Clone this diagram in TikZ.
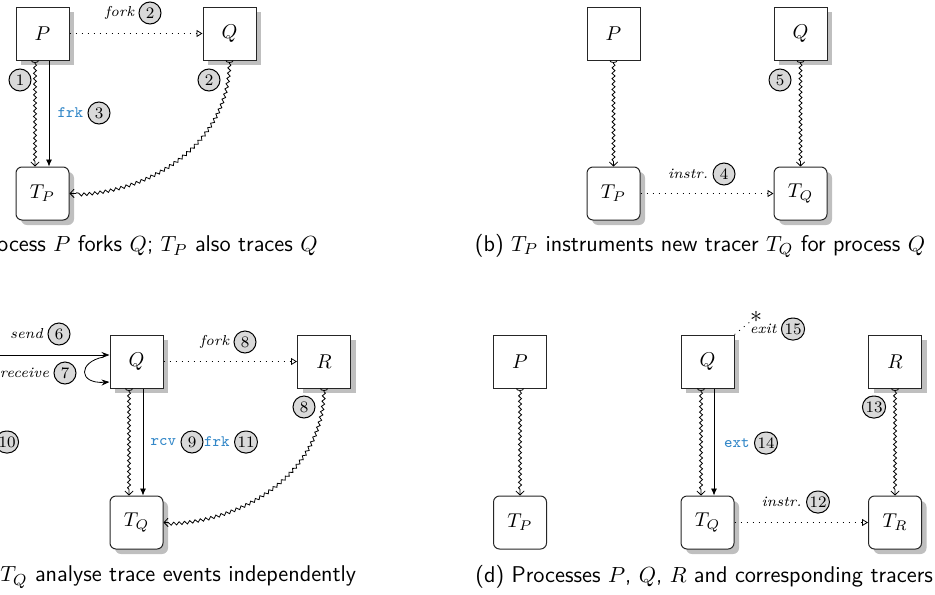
\documentclass[tikz,border=0pt]{standalone}
\usetikzlibrary{arrows.meta, decorations.pathmorphing, shadows, shapes.misc}
\definecolor{tblue}{RGB}{52,136,200}
\begin{document}
\begin{tikzpicture}[x=0.5pt,y=-0.5pt,
 proc/.style={draw=black!85, line width=0.5pt, fill=white, minimum size=26.5pt, inner sep=0pt},
 tracer/.style={proc, rounded corners=3pt},
 shad/.style={drop shadow={shadow xshift=2.5pt, shadow yshift=-2.5pt, fill=black!25, opacity=1}},
 num/.style={rounded rectangle, draw, fill=black!15, line width=0.5pt, minimum height=11pt, minimum width=11pt, inner xsep=0.8pt, inner ysep=0pt, font=\footnotesize},
 lbl/.style={font=\fontsize{7.2}{8.5}\selectfont\itshape, inner sep=1pt},
 ttl/.style={font=\footnotesize\ttfamily, text=tblue, inner sep=1pt},
 captxt/.style={font=\fontsize{11.4}{13}\selectfont\sffamily, inner sep=0pt},
 wavy/.style={decorate, decoration={snake, amplitude=0.75pt, segment length=2.7pt, pre length=1.5pt, post length=2pt}, line width=0.4pt, {Arc Barb[reversed,length=1.2pt,width=4pt]}-{Straight Barb[length=2pt,width=4.2pt]}},
 solidarr/.style={line width=0.4pt, -{Latex[length=3.5pt,width=3pt]}},
 dotarr/.style={line width=0.4pt, dash pattern=on 0.5pt off 2.5pt, -{Triangle[open,length=3pt,width=3.5pt]}},
 dotl/.style={line width=0.4pt, dash pattern=on 0.5pt off 2.5pt}]
\clip (0,0) rectangle (935,594);
% ---------- (a)
\node[proc, shad] (aP) at (42.5,33.5) {$P$};
\node[proc, shad] (aQ) at (229.5,33.5) {$Q$};
\node[tracer, shad] (aT) at (42.5,193.5) {$T_P$};
\draw[dotarr] (aP) -- (aQ);
\node[num] (an2) at (150,13) {2};
\node[lbl, anchor=east] (afork) at ([xshift=-1pt]an2.west) {fork};
\node[num] (an1) at (20,80) {1};
\draw[wavy] ([xshift=-3.75pt]aP.south) -- ([xshift=-3.75pt]aT.north);
\draw[solidarr] ([xshift=3.25pt]aP.south) -- ([xshift=3.25pt]aT.north);
\node[num] (an3) at (99,113) {3};
\node[ttl, anchor=east] (afrk) at ([xshift=-1pt]an3.west) {frk};
\node[num] (an2b) at (209,80) {2};
\draw[wavy] (aQ.south) to[out=-90,in=0] (aT.east);
\node[captxt, anchor=east] (capa) at (318,246) {(a) Process $P$ forks $Q$; $T_P$ also traces $Q$};
% ---------- (b)
\node[proc] (bP) at (613.5,33.5) {$P$};
\node[proc, shad] (bQ) at (800.5,33.5) {$Q$};
\node[tracer, shad] (bTP) at (613.5,193.5) {$T_P$};
\node[tracer, shad] (bTQ) at (800.5,193.5) {$T_Q$};
\draw[wavy] (bP.south) -- (bTP.north);
\draw[wavy] (bQ.south) -- (bTQ.north);
\draw[dotarr] (bTP) -- (bTQ);
\node[num] (bn4) at (724,174) {4};
\node[lbl, anchor=east] (binstr) at ([xshift=-1pt]bn4.west) {instr.};
\node[num] (bn5) at (780,80) {5};
\node[captxt] (capb) at (700,246) {(b) $T_P$ instruments new tracer $T_Q$ for process $Q$};
% ---------- (c)
\node[proc, shad] (cQ) at (136.5,361.5) {$Q$};
\node[proc, shad] (cR) at (324,361.5) {$R$};
\node[tracer, shad] (cT) at (136.5,522.5) {$T_Q$};
\coordinate (cin) at (-10,355);
\draw[line width=0.4pt, -{Stealth[length=4pt,width=3pt]}] (cin) -- (cin -| cQ.west);
\node[num] (cn6) at (59,334) {6};
\node[lbl, anchor=east] (csend) at ([xshift=-1pt]cn6.west) {send};
\draw[line width=0.4pt, -{Stealth[length=4pt,width=3pt]}] ([xshift=-3pt,yshift=2.25pt]cQ.west) .. controls (78,362) and (78,384) .. ([yshift=-10.25pt]cQ.west);
\node[num] (cn7) at (65,373) {7};
\node[lbl, anchor=east] (creceive) at ([xshift=-1pt]cn7.west) {receive};
\node[num] (cn10) at (7,442) {10};
\draw[dotarr] (cQ) -- (cR);
\node[num] (cn8) at (245,342) {8};
\node[lbl, anchor=east] (cfork) at ([xshift=-1pt]cn8.west) {fork};
\node[num] (cn8b) at (304,407) {8};
\draw[wavy] ([xshift=-3.75pt]cQ.south) -- ([xshift=-3.75pt]cT.north);
\draw[solidarr] ([xshift=3.25pt]cQ.south) -- ([xshift=3.25pt]cT.north);
\draw[wavy] (cR.south) to[out=-90,in=0] (cT.east);
\node[num] (cn9) at (192,442) {9};
\node[ttl, anchor=east] (crcv) at ([xshift=-1pt]cn9.west) {rcv};
\node[num] (cn11) at (246,442) {11};
\node[ttl, anchor=east] (cfrk) at ([xshift=-1pt]cn11.west) {frk};
\node[captxt, anchor=west] (capc) at (0,577) {$T_Q$ analyse trace events independently};
% ---------- (d)
\node[proc] (dP) at (520,361.5) {$P$};
\node[tracer] (dTP) at (520,522.5) {$T_P$};
\node[proc, shad] (dQ) at (707.5,361.5) {$Q$};
\node[tracer, shad] (dTQ) at (707.5,522.5) {$T_Q$};
\node[proc, shad] (dR) at (895,361.5) {$R$};
\node[tracer, shad] (dTR) at (895,522.5) {$T_R$};
\draw[wavy] (dP.south) -- (dTP.north);
\draw[wavy] ([xshift=-3.25pt]dQ.south) -- ([xshift=-3.25pt]dTQ.north);
\draw[solidarr] ([xshift=3.25pt]dQ.south) -- ([xshift=3.25pt]dTQ.north);
\draw[wavy] (dR.south) -- (dTR.north);
\draw[dotarr] (dTQ) -- (dTR);
\node[inner sep=0pt, font=\large] (dstar) at (756,317) {$\ast$};
\draw[dotl] (dQ.north east) -- (dstar);
\node[num] (dn15) at (793,329) {15};
\node[lbl, anchor=east] (dexit) at ([xshift=-1pt]dn15.west) {exit};
\node[num] (dn14) at (766,443) {14};
\node[ttl, anchor=east] (dext) at ([xshift=-1pt]dn14.west) {ext};
\node[num] (dn13) at (874,407) {13};
\node[num] (dn12) at (818,502) {12};
\node[lbl, anchor=east] (dinstr) at ([xshift=-1pt]dn12.west) {instr.};
\node[captxt, anchor=west] (capd) at (475,577) {(d) Processes $P$, $Q$, $R$ and corresponding tracers};
\end{tikzpicture}
\end{document}
